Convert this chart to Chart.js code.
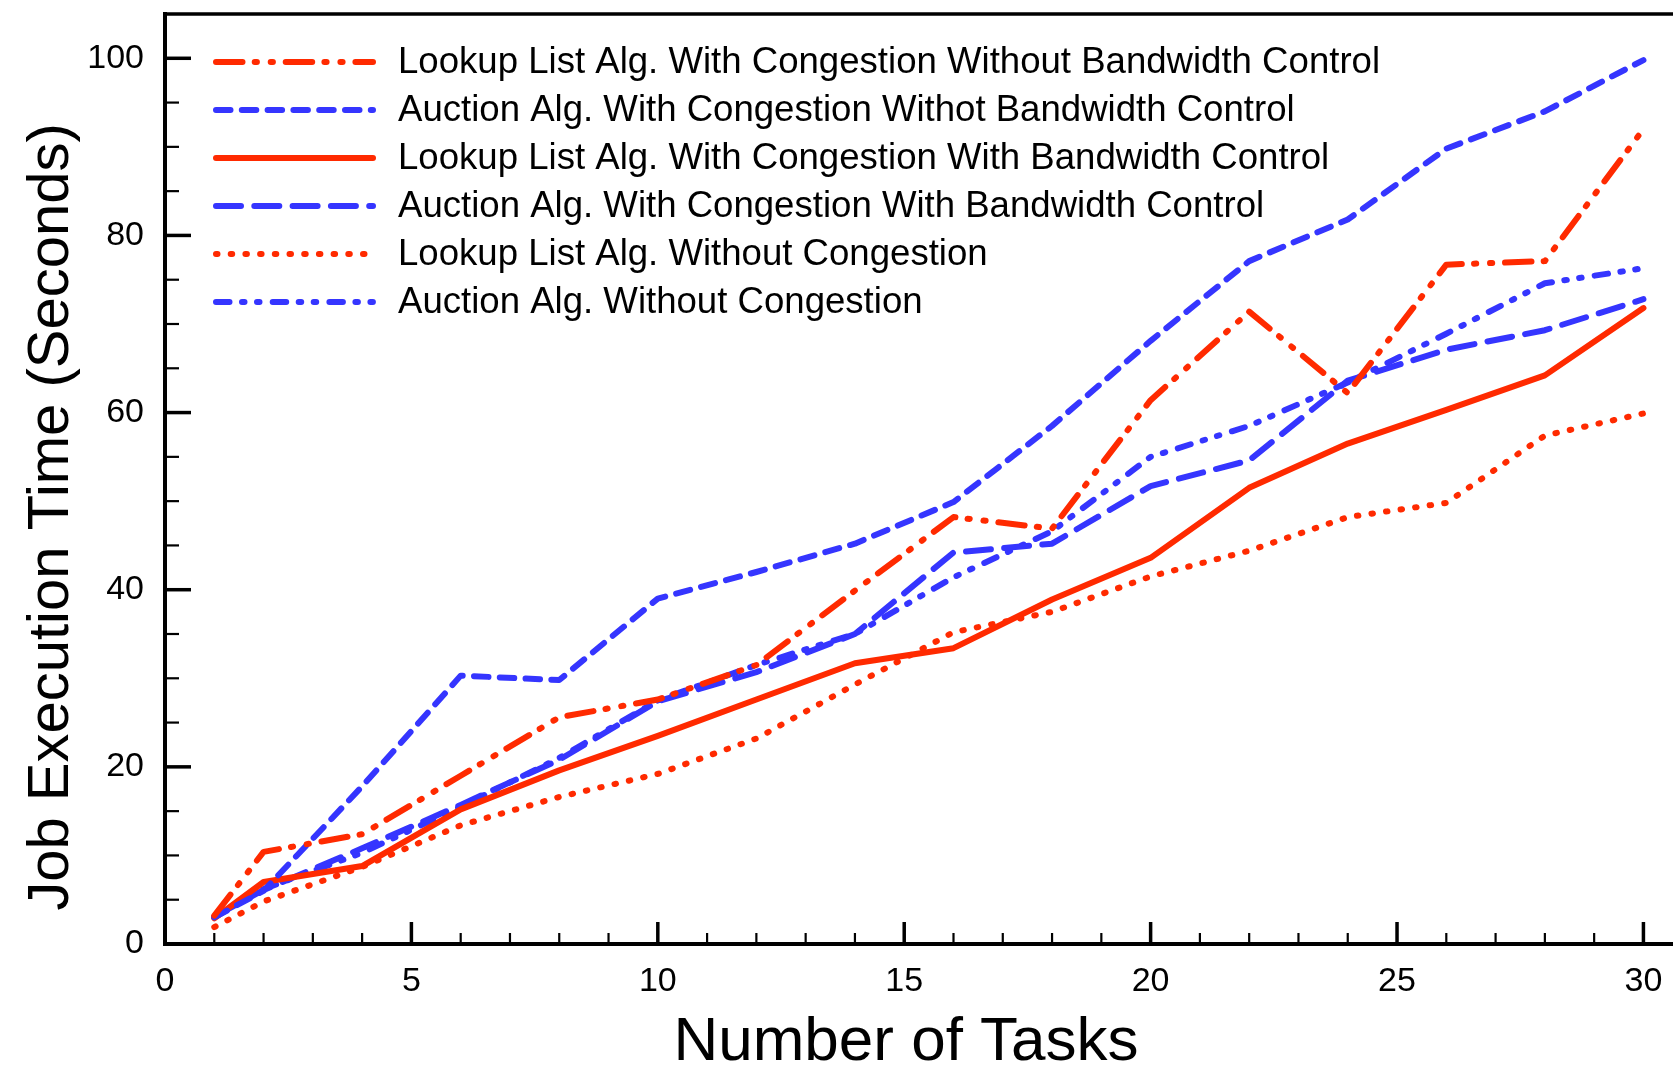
<!DOCTYPE html>
<html>
<head>
<meta charset="utf-8">
<title>Job Execution Time vs Number of Tasks</title>
<script src="https://cdn.jsdelivr.net/npm/chart.js@4.4.0/dist/chart.umd.min.js"></script>
<style>
  html, body { margin: 0; padding: 0; background: #fff; }
  #chart { display: block; }
</style>
</head>
<body>
<canvas id="chart" width="1673" height="1067"></canvas>
<script>
// number of tasks on the x axis
const tasks = [1, 2, 4, 6, 8, 10, 12, 14, 16, 18, 20, 22, 24, 26, 28, 30];

// job execution time in seconds, one list per configuration
const lookupCongNoBw  = [3.2, 10.4, 12.4, 19.0, 25.6, 27.6, 31.5, 39.9, 48.2, 46.9, 61.4, 71.4, 62.2, 76.7, 77.1, 92.0];
const auctionCongNoBw = [3.0, 6.0, 17.8, 30.3, 29.8, 39.0, 42.0, 45.2, 49.9, 58.5, 68.1, 77.1, 81.8, 89.8, 94.0, 99.8];
const lookupCongBw    = [2.9, 7.0, 8.8, 15.2, 19.6, 23.5, 27.6, 31.7, 33.4, 38.9, 43.6, 51.5, 56.5, 60.3, 64.2, 71.8];
const auctionCongBw   = [3.1, 6.1, 10.8, 15.7, 20.8, 27.4, 30.7, 35.0, 44.2, 45.2, 51.7, 54.6, 63.6, 67.1, 69.3, 72.8];
const lookupNoCong    = [1.9, 4.8, 8.7, 13.4, 16.6, 19.2, 23.2, 29.3, 35.2, 37.5, 41.5, 44.4, 48.2, 49.8, 57.4, 59.9];
const auctionNoCong   = [3.0, 6.2, 10.3, 15.5, 21.0, 27.5, 31.5, 35.0, 41.4, 46.6, 55.0, 58.5, 63.4, 68.9, 74.6, 76.3];

const seriesLabels = [
    'Lookup List Alg. With Congestion Without Bandwidth Control',
    'Auction Alg. With Congestion Withot Bandwidth Control',
    'Lookup List Alg. With Congestion With Bandwidth Control',
    'Auction Alg. With Congestion With Bandwidth Control',
    'Lookup List Alg. Without Congestion',
    'Auction Alg. Without Congestion'
];

const xTitle = 'Number of Tasks';
const yTitle = 'Job Execution Time (Seconds)';

// labelled ticks; minor ticks fall every 1 task and every 5 seconds
const xTickLabels = [0, 5, 10, 15, 20, 25, 30];
const yTickLabels = [0, 20, 40, 60, 80, 100];
const xMinorStep = 1;
const yMinorStep = 5;

const RED = '#ff2a00';
const BLUE = '#3535ff';
const FONT = "'Liberation Sans', Arial, Helvetica, sans-serif";
const LINE_W = 6;

function toPoints(values) {
    return tasks.map((t, i) => ({ x: t, y: values[i] }));
}

function lineSet(label, values, color, dash) {
    return {
        label: label,
        data: toPoints(values),
        borderColor: color,
        backgroundColor: color,
        borderWidth: LINE_W,
        borderDash: dash,
        borderCapStyle: 'round',
        borderJoinStyle: 'round',
        pointRadius: 0,
        pointHoverRadius: 0,
        tension: 0,
        fill: false
    };
}

function stepTicks(max, step) {
    const out = [];
    for (let v = 0; v <= max; v += step) out.push({ value: v });
    return out;
}

// drop the extra room chart.js keeps for the end labels
function noEdgePadding(s) {
    s.paddingTop = 0;
    s.paddingBottom = 0;
    s.paddingLeft = 0;
    s.paddingRight = 0;
}

// inward tick marks plus the top frame line
const frameTicks = {
    id: 'frameTicks',
    afterDatasetsDraw(chart) {
        const { ctx, chartArea, scales } = chart;
        ctx.save();
        ctx.strokeStyle = '#000';
        ctx.lineCap = 'butt';
        scales.y.ticks.forEach(t => {
            const py = scales.y.getPixelForValue(t.value);
            const major = yTickLabels.includes(t.value);
            ctx.lineWidth = major ? 3.5 : 2.2;
            ctx.beginPath();
            ctx.moveTo(chartArea.left, py);
            ctx.lineTo(chartArea.left + (major ? 26 : 14), py);
            ctx.stroke();
        });
        scales.x.ticks.forEach(t => {
            const px = scales.x.getPixelForValue(t.value);
            const major = xTickLabels.includes(t.value);
            ctx.lineWidth = major ? 3.5 : 2.2;
            ctx.beginPath();
            ctx.moveTo(px, chartArea.bottom);
            ctx.lineTo(px, chartArea.bottom - (major ? 22 : 11));
            ctx.stroke();
        });
        ctx.lineWidth = 3.5;
        ctx.beginPath();
        ctx.moveTo(chartArea.left - 2, chartArea.top);
        ctx.lineTo(chartArea.right, chartArea.top);
        ctx.stroke();
        ctx.restore();
    }
};

// legend drawn inside the plot, top left
const insideLegend = {
    id: 'insideLegend',
    afterDatasetsDraw(chart) {
        const { ctx, chartArea } = chart;
        const x0 = chartArea.left + 51;
        const x1 = chartArea.left + 208;
        const textX = chartArea.left + 233;
        ctx.save();
        ctx.font = '36.6px ' + FONT;
        ctx.textBaseline = 'middle';
        ctx.fillStyle = '#000';
        chart.data.datasets.forEach((ds, i) => {
            const y = chartArea.top + 48 + i * 48;
            ctx.strokeStyle = ds.borderColor;
            ctx.lineWidth = ds.borderWidth;
            ctx.lineCap = 'round';
            ctx.setLineDash(ds.borderDash || []);
            ctx.beginPath();
            ctx.moveTo(x0, y);
            ctx.lineTo(x1, y);
            ctx.stroke();
            ctx.setLineDash([]);
            ctx.fillText(ds.label, textX, y + 1);
        });
        ctx.restore();
    }
};

// axis titles; both sit a little off the middle of their axis
const axisTitles = {
    id: 'axisTitles',
    afterDraw(chart) {
        const { ctx, chartArea } = chart;
        ctx.save();
        ctx.fillStyle = '#000';
        ctx.textAlign = 'center';
        ctx.textBaseline = 'alphabetic';

        ctx.font = '62px ' + FONT;
        ctx.fillText(xTitle, (chartArea.left + chartArea.right) / 2 - 13, chartArea.bottom + 116);

        ctx.translate(chartArea.left - 97, (chartArea.top + chartArea.bottom) / 2 + 38);
        ctx.rotate(-Math.PI / 2);
        ctx.font = '58px ' + FONT;
        ctx.fillText(yTitle, 0, 0);
        ctx.restore();
    }
};

const ctx = document.getElementById('chart').getContext('2d');

new Chart(ctx, {
    type: 'line',
    data: {
        datasets: [
            lineSet(seriesLabels[0], lookupCongNoBw, RED, [26.5, 12.2, 2.2, 13.8, 2.2, 12.8]),
            lineSet(seriesLabels[1], auctionCongNoBw, BLUE, [14.5, 11.3]),
            lineSet(seriesLabels[2], lookupCongBw, RED, []),
            lineSet(seriesLabels[3], auctionCongBw, BLUE, [25, 13.3]),
            lineSet(seriesLabels[4], lookupNoCong, RED, [1.5, 13.2]),
            lineSet(seriesLabels[5], auctionNoCong, BLUE, [13.5, 12.5, 2.5, 12.5, 2.5, 13.2])
        ]
    },
    options: {
        responsive: false,
        animation: false,
        devicePixelRatio: 1,
        layout: { padding: { top: 14, right: 0, bottom: 0, left: 0 } },
        plugins: {
            legend: { display: false },
            tooltip: { enabled: false }
        },
        scales: {
            x: {
                type: 'linear',
                min: 0,
                max: 30.6,
                afterBuildTicks: s => { s.ticks = stepTicks(30, xMinorStep); },
                afterFit: s => { s.height = 123; noEdgePadding(s); },
                grid: { display: false, drawTicks: false },
                border: { display: true, color: '#000', width: 4 },
                ticks: {
                    autoSkip: false,
                    maxRotation: 0,
                    padding: 17,
                    color: '#000',
                    font: { family: FONT, size: 34 },
                    callback: v => xTickLabels.includes(v) ? String(v) : ''
                }
            },
            y: {
                type: 'linear',
                min: 0,
                max: 105,
                afterBuildTicks: s => { s.ticks = stepTicks(100, yMinorStep); },
                afterFit: s => { s.width = 165; noEdgePadding(s); },
                grid: { display: false, drawTicks: false },
                border: { display: true, color: '#000', width: 4 },
                ticks: {
                    autoSkip: false,
                    padding: 21,
                    color: '#000',
                    font: { family: FONT, size: 34 },
                    callback: v => yTickLabels.includes(v) ? String(v) : ''
                }
            }
        }
    },
    plugins: [frameTicks, insideLegend, axisTitles]
});
</script>
</body>
</html>
